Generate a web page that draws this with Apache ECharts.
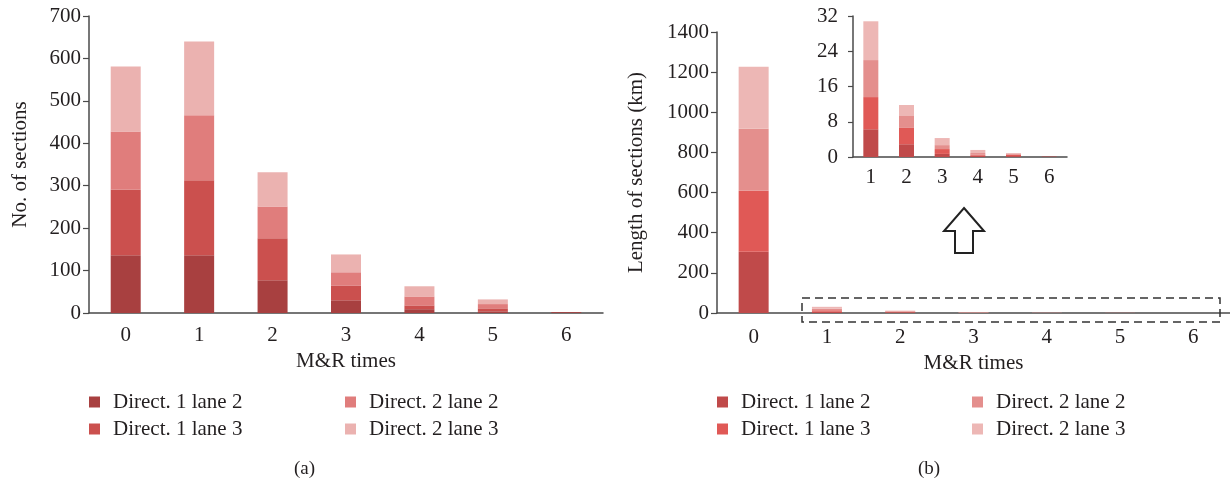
<!DOCTYPE html>
<html>
<head>
<meta charset="utf-8">
<script src="https://cdn.jsdelivr.net/npm/echarts@6/dist/echarts.min.js"></script>
<style>
  html, body { margin: 0; padding: 0; background: #fff; }
  #wrap { position: relative; width: 1230px; height: 483px; }
  #chartA { position: absolute; left: 0; top: 0; width: 615px; height: 483px; }
  #chartB { position: absolute; left: 615px; top: 0; width: 615px; height: 483px; }
</style>
</head>
<body>
<div id="wrap">
  <div id="chartA"></div>
  <div id="chartB"></div>
</div>
<script>
// M&R times on the x axis
var times = ['0', '1', '2', '3', '4', '5', '6'];
var insetTimes = ['1', '2', '3', '4', '5', '6'];
var names = ['Direct. 1 lane 2', 'Direct. 1 lane 3', 'Direct. 2 lane 2', 'Direct. 2 lane 3'];

// (a) number of sections
var countD1L2 = [136, 136, 77, 30, 9, 4, 2];
var countD1L3 = [155, 177, 99, 35, 9, 7, 0];
var countD2L2 = [137, 153, 75, 31, 21, 10, 0];
var countD2L3 = [153, 174, 81, 42, 24, 11, 0];

// (b) length of sections (km)
var lenD1L2 = [305, 6.3, 2.9, 0.7, 0.3, 0.2, 0.1];
var lenD1L3 = [304, 7.3, 3.7, 1.1, 0.2, 0.3, 0];
var lenD2L2 = [309, 8.4, 2.7, 0.9, 0.4, 0.2, 0];
var lenD2L3 = [309, 8.8, 2.5, 1.6, 0.7, 0.2, 0];

var colorsA = ['#a84040', '#cb504e', '#e07d7c', '#ebb2b0'];
var colorsB = ['#c04a4a', '#e05956', '#e48f8d', '#edb7b5'];

var FONT = 'Liberation Serif';
var FS = 21;
var TXT = '#231f20';
var AXIS = '#4a4a4a';

function catAxis(data, idx, withName) {
  return {
    type: 'category',
    gridIndex: idx,
    data: data,
    axisLine: { lineStyle: { color: AXIS, width: 1.5 } },
    axisTick: { show: false },
    axisLabel: { fontFamily: FONT, fontSize: FS, color: TXT, margin: 12 },
    name: withName ? 'M&R times' : '',
    nameLocation: 'middle',
    nameGap: 35,
    nameTextStyle: { fontFamily: FONT, fontSize: FS, color: TXT }
  };
}

function valAxis(idx, max, step, name, gap) {
  return {
    type: 'value',
    gridIndex: idx,
    min: 0,
    max: max,
    interval: step,
    axisLine: { show: true, lineStyle: { color: AXIS, width: 1.5 } },
    axisTick: { show: true, length: 6, lineStyle: { color: AXIS, width: 1.2 } },
    splitLine: { show: false },
    axisLabel: { fontFamily: FONT, fontSize: FS, color: TXT, margin: 8, formatter: function (v) { return String(v); } },
    name: name,
    nameLocation: 'middle',
    nameRotate: 90,
    nameGap: gap,
    nameTextStyle: { fontFamily: FONT, fontSize: FS, color: TXT }
  };
}

function legends(left1, left2, top) {
  var base = {
    orient: 'vertical',
    top: top,
    padding: 0,
    itemWidth: 11,
    itemHeight: 11,
    itemGap: 5,
    icon: 'rect',
    textStyle: { fontFamily: FONT, fontSize: FS, color: TXT, lineHeight: 22, padding: [0, 0, 0, 8] }
  };
  return [
    Object.assign({}, base, { left: left1, data: [names[0], names[1]] }),
    Object.assign({}, base, { left: left2, data: [names[2], names[3]] })
  ];
}

// ---------- (a) ----------
var chartA = echarts.init(document.getElementById('chartA'));
var dataA = [countD1L2, countD1L3, countD2L2, countD2L3];
chartA.setOption({
  animation: false,
  grid: [{ left: 89, top: 16, width: 514, height: 297 }],
  xAxis: [catAxis(times, 0, true)],
  yAxis: [valAxis(0, 700, 100, 'No. of sections', 58)],
  legend: legends(89, 345, 391),
  series: dataA.map(function (d, i) {
    return { name: names[i], type: 'bar', stack: 'a', barWidth: 30, data: d, itemStyle: { color: colorsA[i] } };
  }),
  graphic: [
    { type: 'text', left: 294, top: 460, style: { text: '(a)', font: '19px "Liberation Serif"', fill: TXT } }
  ]
});

// ---------- (b) ----------
var chartB = echarts.init(document.getElementById('chartB'));
var dataB = [lenD1L2, lenD1L3, lenD2L2, lenD2L3];
var seriesB = dataB.map(function (d, i) {
  return { name: names[i], type: 'bar', stack: 'b', barWidth: 30, xAxisIndex: 0, yAxisIndex: 0, data: d, itemStyle: { color: colorsB[i] } };
});
dataB.forEach(function (d, i) {
  seriesB.push({ name: names[i], type: 'bar', stack: 'inset', barWidth: 15, xAxisIndex: 1, yAxisIndex: 1, data: d.slice(1), itemStyle: { color: colorsB[i] } });
});
var insetY = valAxis(1, 32, 8, '', 0);
insetY.axisLabel.margin = 15;
insetY.axisTick.length = 5;
var insetX = catAxis(insetTimes, 1, false);
insetX.axisLabel.margin = 10;
var mainX = catAxis(times, 0, true);
mainX.axisLabel.margin = 14;
chartB.setOption({
  animation: false,
  grid: [
    { left: 102, top: 32, width: 514, height: 281 },
    { left: 238, top: 16, width: 214, height: 141 }
  ],
  xAxis: [mainX, insetX],
  yAxis: [valAxis(0, 1400, 200, 'Length of sections (km)', 70), insetY],
  legend: legends(102, 357, 391),
  series: seriesB,
  graphic: [
    {
      type: 'rect',
      shape: { x: 187, y: 298, width: 418, height: 24 },
      style: { fill: 'none', stroke: '#333', lineWidth: 1.5, lineDash: [8, 5] },
      z: 10
    },
    {
      type: 'polygon',
      shape: { points: [[349, 208], [369, 231], [358, 231], [358, 253], [340, 253], [340, 231], [329, 231]] },
      style: { fill: '#fff', stroke: '#222', lineWidth: 2 }
    },
    { type: 'text', left: 303, top: 460, style: { text: '(b)', font: '19px "Liberation Serif"', fill: TXT } }
  ]
});
</script>
</body>
</html>
